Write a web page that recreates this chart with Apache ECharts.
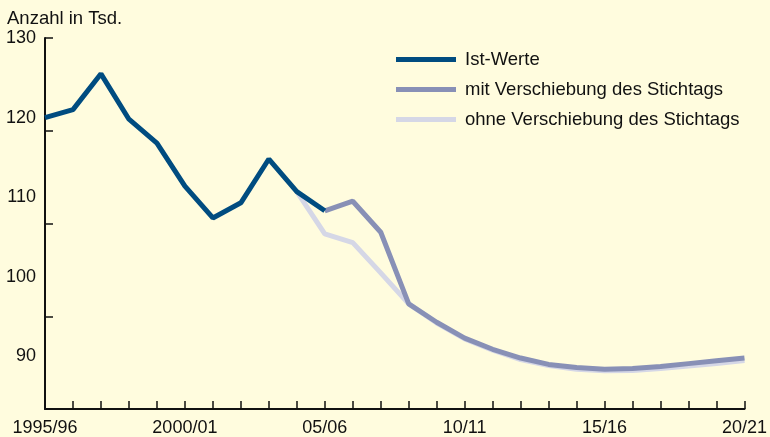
<!DOCTYPE html>
<html>
<head>
<meta charset="utf-8">
<script src="https://cdn.jsdelivr.net/npm/echarts@6/dist/echarts.min.js"></script>
<style>
html,body{margin:0;padding:0;background:#FFFCDE;}
#chart{width:770px;height:437px;}
</style>
</head>
<body>
<div id="chart"></div>
<script>
var categories = ['1995/96','96/97','97/98','98/99','99/00','2000/01','01/02','02/03','03/04','04/05','05/06','06/07','07/08','08/09','09/10','10/11','11/12','12/13','13/14','14/15','15/16','16/17','17/18','18/19','19/20','20/21'];
var istWerte = [120.0,121.0,125.5,119.8,116.8,111.4,107.4,109.3,114.8,110.7,108.3,null,null,null,null,null,null,null,null,null,null,null,null,null,null,null];
var mitVerschiebung = [null,null,null,null,null,null,null,null,null,null,108.3,109.5,105.6,96.6,94.3,92.3,90.9,89.8,89.0,88.6,88.4,88.5,88.75,89.1,89.45,89.8];
var ohneVerschiebung = [null,null,null,null,null,null,null,null,null,110.7,105.4,104.3,100.5,96.6,94.2,92.2,90.8,89.6,88.85,88.4,88.2,88.25,88.5,88.8,89.1,89.5];
var yLabelValues = [90,100,110,120,130];
var yTickValues = [83.4,95.05,106.7,118.35,130];
var seriesNames = ['Ist-Werte','mit Verschiebung des Stichtags','ohne Verschiebung des Stichtags'];

var chart = echarts.init(document.getElementById('chart'));
var font = 'Liberation Sans, Arial, sans-serif';
chart.setOption({
  backgroundColor: '#FFFCDE',
  animation: false,
  grid: {left: 45, right: 21, top: 38, bottom: 26, containLabel: false},
  graphic: [{
    type: 'text', left: 7, top: 9,
    style: {text: 'Anzahl in Tsd.', fill: '#111', font: '18.5px ' + font}
  }],
  legend: {
    orient: 'vertical', left: 396, top: 50, itemGap: 11, padding: 0,
    itemWidth: 60, itemHeight: 5, icon: 'rect',
    textStyle: {fontFamily: font, fontSize: 18.5, color: '#111', padding: [0,0,0,4]},
    data: seriesNames
  },
  xAxis: {
    type: 'category', data: categories, boundaryGap: false,
    axisLine: {lineStyle: {color: '#111', width: 2}},
    axisTick: {inside: true, length: 8, lineStyle: {color: '#111', width: 1.5}, interval: 0},
    axisLabel: {interval: 4, margin: 10, fontFamily: font, fontSize: 18, color: '#111', showMaxLabel: true},
    splitLine: {show: false}
  },
  yAxis: {
    type: 'value', min: 83.4, max: 130,
    axisLine: {show: true, lineStyle: {color: '#111', width: 2}},
    axisTick: {show: true, inside: true, length: 8, customValues: yTickValues, lineStyle: {color: '#111', width: 1.5}},
    axisLabel: {customValues: yLabelValues, margin: 9, fontFamily: font, fontSize: 18, color: '#111'},
    splitLine: {show: false}
  },
  series: [
    {name: seriesNames[0], type: 'line', data: istWerte, z: 4, showSymbol: false, symbol: 'none',
     lineStyle: {color: '#004C80', width: 5}, itemStyle: {color: '#004C80'}, connectNulls: false},
    {name: seriesNames[1], type: 'line', data: mitVerschiebung, z: 3, showSymbol: false, symbol: 'none',
     lineStyle: {color: '#8890B6', width: 5}, itemStyle: {color: '#8890B6'}},
    {name: seriesNames[2], type: 'line', data: ohneVerschiebung, z: 2, showSymbol: false, symbol: 'none',
     lineStyle: {color: '#D5D7E6', width: 5}, itemStyle: {color: '#D5D7E6'}}
  ]
});
</script>
</body>
</html>
